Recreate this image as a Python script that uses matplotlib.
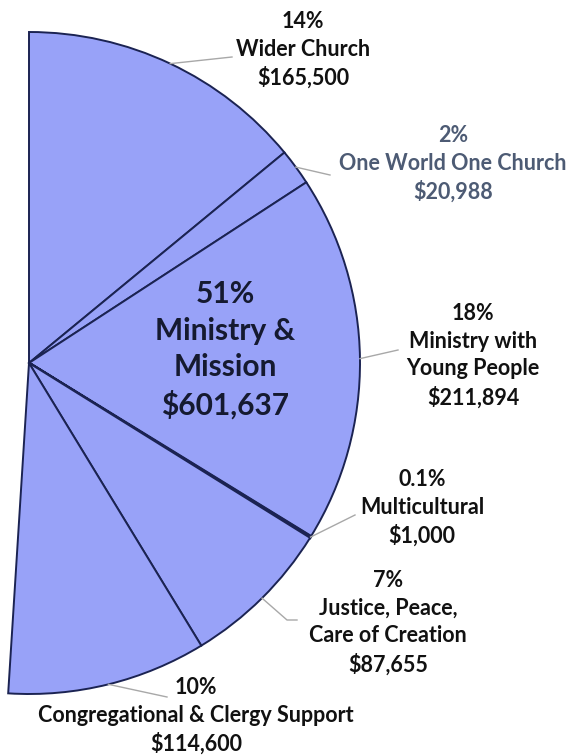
import numpy as np
import matplotlib.pyplot as plt

# Ministry & Mission share of the budget (the rest of the pie is left blank)
names = ["Wider Church", "One World One Church", "Ministry with\nYoung People",
         "Multicultural", "Justice, Peace,\nCare of Creation",
         "Congregational & Clergy Support"]
pct_labels = ["14%", "2%", "18%", "0.1%", "7%", "10%"]
amounts = [165500, 20988, 211894, 1000, 87655, 114600]
other_spending = 578000  # remaining 49% of the budget, not drawn
total_label = "51%\nMinistry &\nMission\n$601,637"

H = 756  # figure height in px, used to flip image-style y coords


def flip(x, y):
    return x, H - y


fig = plt.figure(figsize=(5.69, 7.56), dpi=100)
ax = fig.add_axes([0, 0, 1, 1])

center = flip(29, 363)
radius = 331
fill = "#98a2f8"
edge = "#1b2352"

wedges, _ = ax.pie(amounts + [other_spending], startangle=90, counterclock=False,
                   center=center, radius=radius,
                   colors=[fill] * len(amounts) + ["white"],
                   wedgeprops=dict(edgecolor=edge, linewidth=1.4))
wedges[-1].set_visible(False)
wedges[3].set_linewidth(2.0)

# label block centres and leader-line end points (image px)
label_pos = [(303, 50), (453, 164), (473, 356), (422, 508), (388, 623), (196, 716)]
leader_ends = [[(232, 57)], [(330, 175)], [(398, 350)], [(355, 515)],
               [(287, 620), (297, 620)], [(167, 697)]]
label_colors = ["#111111", "#4d5b74", "#111111", "#111111", "#111111", "#111111"]

for i, w in enumerate(wedges[:-1]):
    mid = np.deg2rad((w.theta1 + w.theta2) / 2)
    sx = center[0] + radius * np.cos(mid)
    sy = center[1] + radius * np.sin(mid)
    pts = [(sx, sy)] + [flip(*p) for p in leader_ends[i]]
    xs, ys = zip(*pts)
    ax.plot(xs, ys, color="#a8a8a8", lw=1.0, zorder=1)

    txt = f"{pct_labels[i]}\n{names[i]}\n${amounts[i]:,}"
    ax.text(*flip(*label_pos[i]), txt, ha="center", va="center",
            fontsize=15.5, fontweight="bold", family="Lato",
            color=label_colors[i], linespacing=1.38)

ax.text(*flip(225, 350), total_label, ha="center", va="center",
        fontsize=21.5, fontweight="bold", family="Lato", color="#151a30",
        linespacing=1.38)

ax.set_xlim(0, 569)
ax.set_ylim(0, H)
ax.set_aspect("equal")
ax.axis("off")

fig.savefig("out.png", dpi=100, facecolor="white")
